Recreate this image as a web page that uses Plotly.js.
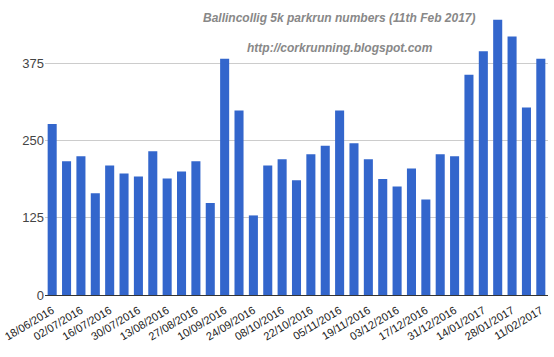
<!DOCTYPE html>
<html>
<head>
<meta charset="utf-8">
<script src="https://cdn.plot.ly/plotly-3.0.1.min.js"></script>
<style>html,body{margin:0;padding:0;background:#fff}#chart{width:554px;height:357px}</style>
</head>
<body>
<div id="chart"></div>
<script>
const dates = ["18/06/2016","25/06/2016","02/07/2016","09/07/2016","16/07/2016","23/07/2016","30/07/2016","06/08/2016","13/08/2016","20/08/2016","27/08/2016","03/09/2016","10/09/2016","17/09/2016","24/09/2016","01/10/2016","08/10/2016","15/10/2016","22/10/2016","29/10/2016","05/11/2016","12/11/2016","19/11/2016","26/11/2016","03/12/2016","10/12/2016","17/12/2016","24/12/2016","31/12/2016","07/01/2017","14/01/2017","21/01/2017","28/01/2017","04/02/2017","11/02/2017"];
const runners = [277,217,225,165,210,197,192,233,189,200,217,149,383,299,129,210,220,186,228,242,299,246,220,188,176,205,155,228,225,357,395,446,419,304,383];
const tickLabels = dates.filter((d,i)=>i%2===0);
const yTicks = [0,125,250,375];
const titleText = "Ballincollig 5k parkrun numbers (11th Feb 2017)";
const subtitleText = "http://corkrunning.blogspot.com";

const trace = {type:'bar', x:dates, y:runners, marker:{color:'#3366cc'}, hoverinfo:'x+y'};
const layout = {
  width:554, height:357,
  margin:{l:45, r:6, t:10, b:62},
  paper_bgcolor:'#fff', plot_bgcolor:'#fff',
  bargap:0.37,
  showlegend:false,
  font:{family:'"Liberation Sans", Arial, sans-serif'},
  xaxis:{type:'category', tickvals:tickLabels, ticktext:tickLabels, tickangle:-31,
         tickfont:{size:11, color:'#222'}, showgrid:false, ticks:'outside', ticklen:4,
         tickcolor:'rgba(0,0,0,0)', automargin:false, showline:false},
  yaxis:{range:[0,462], tickvals:yTicks, ticktext:yTicks.map(String),
         tickfont:{size:13, color:'#444'}, gridcolor:'#cccccc', gridwidth:1,
         zeroline:true, zerolinecolor:'#333', zerolinewidth:1, ticks:'', automargin:false},
  annotations:[
    {text:'<b><i>'+titleText+'</i></b>', xref:'paper', yref:'paper', x:0.586, y:0.972,
     showarrow:false, xanchor:'center', yanchor:'middle', font:{size:12, color:'#888'}},
    {text:'<b><i>'+subtitleText+'</i></b>', xref:'paper', yref:'paper', x:0.586, y:0.867,
     showarrow:false, xanchor:'center', yanchor:'middle', font:{size:12, color:'#888'}}
  ]
};
Plotly.newPlot('chart',[trace],layout,{displayModeBar:false, staticPlot:true});
</script>
</body>
</html>
